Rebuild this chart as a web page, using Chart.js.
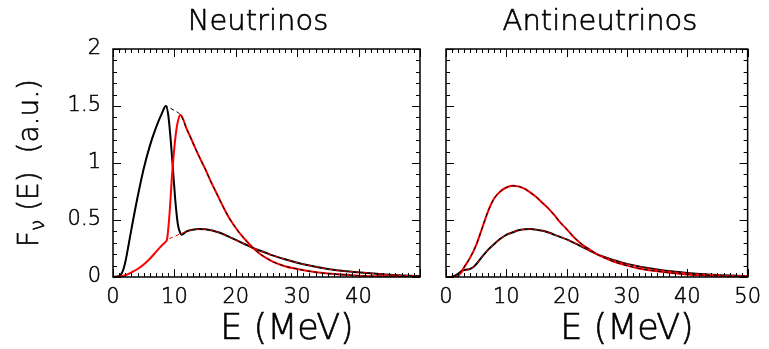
<!DOCTYPE html>
<html>
<head>
<meta charset="utf-8">
<script src="https://cdn.jsdelivr.net/npm/chart.js@4/dist/chart.umd.min.js"></script>
<style>
  body { margin: 0; background: #fff; }
  #wrap { position: relative; width: 769px; height: 349px; }
  .panel { position: absolute; top: 0; height: 349px; }
</style>
</head>
<body>
<div id="wrap">
  <div class="panel" style="left:0;width:430px"><canvas id="nuChart"></canvas></div>
  <div class="panel" style="left:430px;width:339px"><canvas id="anuChart"></canvas></div>
</div>
<script>
// Axis ticks
const xMajorTicks = [0, 10, 20, 30, 40, 50];
const yMajorTicks = [0, 0.5, 1, 1.5, 2];
const xMinorStep = 1;
const yMinorStep = 0.1;

// Neutrinos: initial nu_e spectrum (peak ~1.5) and initial nu_x spectrum
const nuEnergyE = [0, 1, 1.5, 2, 2.5, 3, 4, 5, 6, 7, 8, 8.6, 9, 10, 11, 12, 13, 14, 15, 16, 17, 18, 19, 20, 21, 22, 23, 24, 25, 26, 28, 30, 32, 35, 40, 45, 50];
const nuFluxE   = [0, 0.01, 0.04, 0.13, 0.27, 0.42, 0.7, 0.95, 1.15, 1.31, 1.44, 1.5, 1.49, 1.46, 1.42, 1.3, 1.18, 1.06, 0.95, 0.83, 0.72, 0.61, 0.51, 0.43, 0.36, 0.3, 0.245, 0.2, 0.165, 0.135, 0.095, 0.07, 0.05, 0.03, 0.012, 0.005, 0.002];
const nuEnergyX = [0, 1, 2, 3, 4, 5, 6, 7, 8, 8.6, 9, 10, 11, 12, 13, 14, 15, 16, 17, 18, 19, 20, 21, 22, 23, 24, 25, 26, 28, 30, 32, 35, 38, 40, 45, 50];
const nuFluxX   = [0, 0.003, 0.015, 0.04, 0.07, 0.11, 0.16, 0.22, 0.28, 0.31, 0.33, 0.355, 0.38, 0.4, 0.415, 0.42, 0.418, 0.41, 0.395, 0.375, 0.35, 0.325, 0.3, 0.275, 0.25, 0.23, 0.21, 0.19, 0.155, 0.125, 0.1, 0.07, 0.05, 0.042, 0.02, 0.008];
// Neutrinos: final spectra across the swap
const nuSwapBlackE = [9.0, 9.4, 9.8, 10.2, 10.6, 11.0, 11.2, 11.6, 12];
const nuSwapBlackF = [1.42, 1.2, 0.92, 0.64, 0.45, 0.38, 0.37, 0.385, 0.4];
const nuSwapRedE   = [8.8, 9.2, 9.6, 10.0, 10.4, 10.8, 11.0];
const nuSwapRedF   = [0.33, 0.55, 0.88, 1.14, 1.32, 1.41, 1.42];

// Antineutrinos: initial anti-nu_e (upper) and anti-nu_x (lower)
const anuEnergyE = [0, 1, 2, 2.6, 3, 4, 5, 6, 7, 8, 9, 10, 11, 12, 13, 14, 15, 16, 17, 18, 19, 20, 21, 22, 23, 24, 25, 26, 28, 30, 32, 35, 40, 45, 50];
const anuFluxE   = [0, 0.003, 0.028, 0.053, 0.085, 0.17, 0.28, 0.43, 0.58, 0.69, 0.75, 0.785, 0.8, 0.795, 0.775, 0.74, 0.7, 0.65, 0.6, 0.54, 0.475, 0.42, 0.36, 0.31, 0.27, 0.235, 0.2, 0.175, 0.13, 0.1, 0.075, 0.05, 0.023, 0.01, 0.004];
const anuEnergyX = [0, 1, 2, 3, 3.85, 4.5, 5, 6, 7, 8, 9, 10, 11, 12, 13, 14, 15, 16, 17, 18, 19, 20, 22, 25, 28, 30, 35, 40, 45, 50];
const anuFluxX   = [0, 0.002, 0.015, 0.05, 0.068, 0.085, 0.112, 0.178, 0.24, 0.29, 0.335, 0.37, 0.39, 0.41, 0.418, 0.42, 0.415, 0.405, 0.39, 0.37, 0.35, 0.33, 0.28, 0.2, 0.145, 0.115, 0.065, 0.035, 0.018, 0.008];
// Antineutrinos: final spectra at low energy (swap below ~2.6 MeV)
const anuLowBlackE = [0, 0.5, 1, 1.5, 2, 2.6, 3, 3.5, 3.85];
const anuLowBlackF = [0, 0, 0.003, 0.012, 0.028, 0.053, 0.06, 0.066, 0.068];
const anuLowRedE   = [0, 1, 1.5, 1.8, 2.2, 2.6];
const anuLowRedF   = [0, 0, 0.002, 0.006, 0.02, 0.05];

function pts(es, fs) {
  return es.map((e, i) => ({ x: e, y: fs[i] }));
}
function range(es, fs, lo, hi) {
  return pts(es, fs).filter(p => p.x >= lo && p.x <= hi);
}

const fontName = '"DejaVu Sans", "Liberation Sans", sans-serif';
const fontWeight = '200';

// draws text with a thin outline so the light face reads as black
function inkText(ctx, s, x, y) {
  ctx.fillText(s, x, y);
  ctx.strokeText(s, x, y);
}

const framePlugin = {
  id: 'framePlugin',
  afterDraw(chart, args, opts) {
    const ctx = chart.ctx;
    const a = chart.chartArea;
    const xs = chart.scales.x, ys = chart.scales.y;
    const line = (x1, y1, x2, y2) => { ctx.beginPath(); ctx.moveTo(x1, y1); ctx.lineTo(x2, y2); ctx.stroke(); };
    ctx.save();
    ctx.strokeStyle = '#000';
    ctx.lineWidth = 1;
    const xMax = xMajorTicks[xMajorTicks.length - 1];
    for (let v = 0; v <= xMax + 1e-9; v += xMinorStep) {
      const px = Math.round(xs.getPixelForValue(v)) + 0.5;
      const len = xMajorTicks.includes(Math.round(v)) ? 8 : 4;
      line(px, a.bottom, px, a.bottom - len);
      line(px, a.top, px, a.top + len);
    }
    const yMax = yMajorTicks[yMajorTicks.length - 1];
    for (let i = 0; i * yMinorStep <= yMax + 1e-9; i++) {
      const v = +(i * yMinorStep).toFixed(2);
      const py = Math.round(ys.getPixelForValue(v)) + 0.5;
      const len = yMajorTicks.includes(v) ? 8 : 4;
      line(a.left, py, a.left + len, py);
      line(a.right, py, a.right - len, py);
    }
    ctx.lineWidth = 1.5;
    ctx.strokeRect(a.left, a.top, a.right - a.left, a.bottom - a.top);

    ctx.fillStyle = '#000';
    ctx.lineWidth = 0.6;
    ctx.textAlign = 'center';
    ctx.textBaseline = 'alphabetic';
    ctx.font = fontWeight + ' 29px ' + fontName;
    inkText(ctx, opts.title, opts.titleX, 30);
    ctx.font = fontWeight + ' 35px ' + fontName;
    inkText(ctx, 'E (MeV)', opts.xTitleX, 339);

    if (opts.yTitle) {
      ctx.translate(opts.yTitleX, (a.top + a.bottom) / 2);
      ctx.rotate(-Math.PI / 2);
      ctx.textAlign = 'left';
      const big = fontWeight + ' 28px ' + fontName, small = fontWeight + ' 20px ' + fontName;
      ctx.font = big;
      const wF = ctx.measureText('F').width;
      const wRest = ctx.measureText(' (E)  (a.u.)').width;
      ctx.font = small;
      const wNu = ctx.measureText('\u03bd').width;
      let x0 = -(wF + wNu + wRest) / 2;
      ctx.font = big;
      inkText(ctx, 'F', x0, 10);
      ctx.font = small;
      inkText(ctx, '\u03bd', x0 + wF, 16);
      ctx.font = big;
      inkText(ctx, ' (E)  (a.u.)', x0 + wF + wNu, 10);
    }
    ctx.restore();
  }
};

function makeChart(id, datasets, cfg) {
  return new Chart(document.getElementById(id), {
    type: 'line',
    data: { datasets: datasets },
    options: {
      responsive: true,
      maintainAspectRatio: false,
      animation: false,
      events: [],
      layout: { padding: { top: 49, right: cfg.padRight, left: 0, bottom: 0 } },
      elements: {
        point: { radius: 0 },
        line: { cubicInterpolationMode: 'monotone', fill: false }
      },
      scales: {
        x: {
          type: 'linear',
          min: 0,
          max: 50,
          afterBuildTicks: s => { s.ticks = xMajorTicks.map(v => ({ value: v })); },
          afterFit: s => { s.height = 72; },
          grid: { display: false, drawTicks: false },
          border: { display: false },
          ticks: {
            padding: 8,
            color: '#000',
            textStrokeColor: '#000',
            textStrokeWidth: 0.5,
            maxRotation: 0,
            font: { family: fontName, size: 21, weight: fontWeight },
            callback: v => cfg.xLabels[xMajorTicks.indexOf(v)]
          }
        },
        y: {
          type: 'linear',
          min: 0,
          max: 2,
          afterBuildTicks: s => { s.ticks = yMajorTicks.map(v => ({ value: v })); },
          afterFit: s => { s.width = cfg.yWidth; },
          grid: { display: false, drawTicks: false },
          border: { display: false },
          ticks: {
            display: cfg.showY,
            padding: 12,
            color: '#000',
            textStrokeColor: '#000',
            textStrokeWidth: 0.5,
            font: { family: fontName, size: 21, weight: fontWeight },
            callback: v => String(v)
          }
        }
      },
      plugins: {
        legend: { display: false },
        tooltip: { enabled: false },
        framePlugin: cfg.frame
      }
    },
    plugins: [framePlugin]
  });
}

const solid = (data, color, order) => ({ data: data, borderColor: color, borderWidth: 2, order: order });
const dashed = (data, color) => ({ data: data, borderColor: color, borderWidth: 1, borderDash: [4, 3], order: 0 });

// Neutrinos panel
const nuBlack = range(nuEnergyE, nuFluxE, 0, 8.6)
  .concat(pts(nuSwapBlackE, nuSwapBlackF))
  .concat(range(nuEnergyX, nuFluxX, 13, 50));
const nuRed = range(nuEnergyX, nuFluxX, 0, 8.6)
  .concat(pts(nuSwapRedE, nuSwapRedF))
  .concat(range(nuEnergyE, nuFluxE, 12, 50));

makeChart('nuChart', [
  dashed(pts(nuEnergyE, nuFluxE), '#000'),
  dashed(pts(nuEnergyX, nuFluxX), '#ff0000'),
  solid(nuRed, '#ff0000', 1),
  solid(nuBlack, '#000', 2)
], {
  padRight: 10, yWidth: 113, showY: true,
  xLabels: ['0', '10', '20', '30', '40', ''],
  frame: { title: 'Neutrinos', titleX: 258, xTitleX: 287, yTitle: true, yTitleX: 28 }
});

// Antineutrinos panel
const anuBlack = pts(anuLowBlackE, anuLowBlackF)
  .concat(range(anuEnergyX, anuFluxX, 4.5, 50));
const anuRed = pts(anuLowRedE, anuLowRedF)
  .concat(range(anuEnergyE, anuFluxE, 3, 50));

makeChart('anuChart', [
  dashed(pts(anuEnergyE, anuFluxE), '#000'),
  dashed(pts(anuEnergyX, anuFluxX), '#ff0000'),
  solid(anuRed, '#ff0000', 1),
  solid(anuBlack, '#000', 2)
], {
  padRight: 16, yWidth: 16, showY: false,
  xLabels: ['0', '10', '20', '30', '40', '50'],
  frame: { title: 'Antineutrinos', titleX: 170, xTitleX: 197, yTitle: false }
});
</script>
</body>
</html>
